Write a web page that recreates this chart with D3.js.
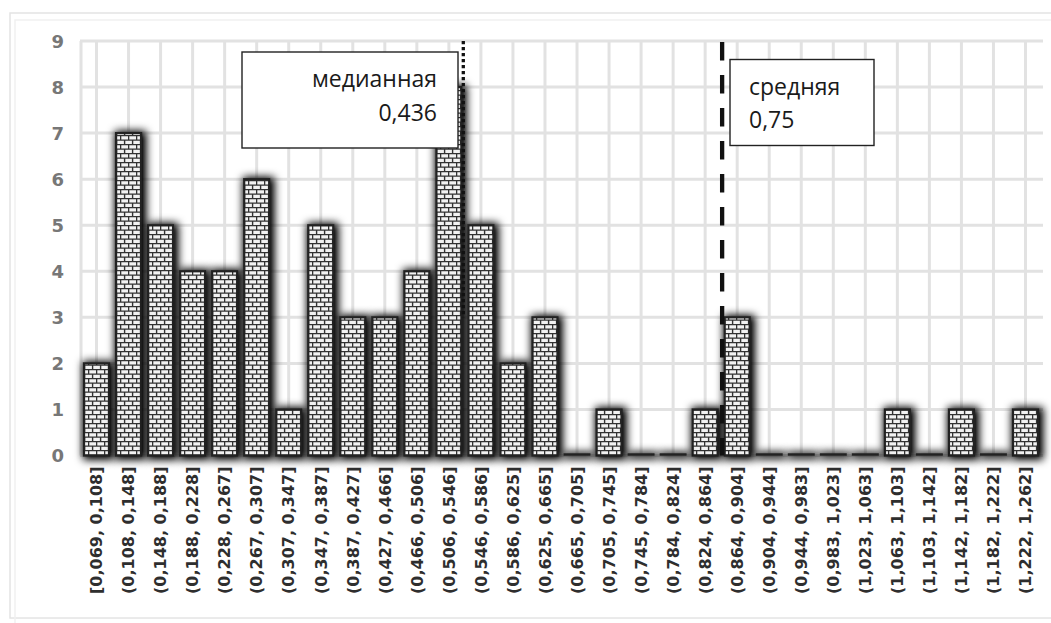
<!DOCTYPE html>
<html><head><meta charset="utf-8">
<script src="https://cdn.jsdelivr.net/npm/d3@7"></script>
<style>body{margin:0;background:#fff}</style>
</head><body>
<svg id="c" width="1051" height="623"></svg>
<script>
const categories = ["[0,069, 0,108]","(0,108, 0,148]","(0,148, 0,188]","(0,188, 0,228]","(0,228, 0,267]",
  "(0,267, 0,307]","(0,307, 0,347]","(0,347, 0,387]","(0,387, 0,427]","(0,427, 0,466]",
  "(0,466, 0,506]","(0,506, 0,546]","(0,546, 0,586]","(0,586, 0,625]","(0,625, 0,665]",
  "(0,665, 0,705]","(0,705, 0,745]","(0,745, 0,784]","(0,784, 0,824]","(0,824, 0,864]",
  "(0,864, 0,904]","(0,904, 0,944]","(0,944, 0,983]","(0,983, 1,023]","(1,023, 1,063]",
  "(1,063, 1,103]","(1,103, 1,142]","(1,142, 1,182]","(1,182, 1,222]","(1,222, 1,262]"];
const counts = [2,7,5,4,4,6,1,5,3,3,4,8,5,2,3,0,1,0,0,1,3,0,0,0,0,1,0,1,0,1];
const yTicks = [0,1,2,3,4,5,6,7,8,9];
const medianText = ["медианная","0,436"];
const meanText = ["средняя","0,75"];
// reference lines drawn between categories (index of category on the left, fraction of step)
const medianLine = {after: 11, frac: 0.45, topValue: 9, bottomValue: 3};
const meanLine = {after: 19, frac: 0.53, topValue: 9, bottomValue: 0};

const svg = d3.select("#c");
const defs = svg.append("defs");
const pat = defs.append("pattern").attr("id","brick").attr("patternUnits","userSpaceOnUse")
  .attr("width",8).attr("height",9);
pat.append("rect").attr("width",8).attr("height",9).attr("fill","#f2f2f2");
pat.append("path").attr("d","M0,0.6H8M0,5.1H8M0.6,0V5M4.6,5V9").attr("stroke","#333").attr("stroke-width",1.4).attr("fill","none");
const f = defs.append("filter").attr("id","sh").attr("filterUnits","userSpaceOnUse")
  .attr("x",0).attr("y",0).attr("width",1051).attr("height",623);
f.append("feMorphology").attr("in","SourceAlpha").attr("operator","dilate").attr("radius",1.5).attr("result","d");
f.append("feGaussianBlur").attr("in","d").attr("stdDeviation",4.5).attr("result","b");
f.append("feOffset").attr("in","b").attr("dx",2).attr("dy",1).attr("result","o");
const ct = f.append("feComponentTransfer").attr("in","o").attr("result","s");
ct.append("feFuncA").attr("type","linear").attr("slope",1.1);
const fm = f.append("feMerge"); fm.append("feMergeNode").attr("in","s"); fm.append("feMergeNode").attr("in","SourceGraphic");

// outer frame
svg.append("rect").attr("x",10).attr("y",13).attr("width",1060).attr("height",605)
  .attr("fill","none").attr("stroke","#e4e4e4").attr("stroke-width",1.5);
svg.append("path").attr("d","M15,1060V20H1060").attr("fill","none").attr("stroke","#f1f1f1").attr("stroke-width",1.5);

const x = d3.scaleBand().domain(categories).range([80.5,1041.5]).paddingInner(0.22).paddingOuter(0.11);
const y = d3.scaleLinear().domain([0,9]).range([455.5,41]);
const cx = c => x(c) + x.bandwidth()/2;

// gridlines
const grid = svg.append("g");
grid.selectAll("line.h").data(yTicks).join("line").attr("class","h")
  .attr("x1",80).attr("x2",1043).attr("y1",d=>y(d)).attr("y2",d=>y(d))
  .attr("stroke","#e2e2e2").attr("stroke-width",3);
grid.append("line").attr("x1",81).attr("x2",81).attr("y1",y(9)).attr("y2",y(0)).attr("stroke","#e2e2e2").attr("stroke-width",3);
grid.selectAll("line.v").data(categories).join("line").attr("class","v")
  .attr("x1",d=>cx(d)).attr("x2",d=>cx(d)).attr("y1",y(9)).attr("y2",y(0))
  .attr("stroke","#e2e2e2").attr("stroke-width",3);

// y axis
const ya = svg.append("g").attr("transform","translate(64,0)")
  .call(d3.axisLeft(y).tickValues(yTicks).tickSize(0).tickPadding(0));
ya.select(".domain").remove();
ya.selectAll("text").attr("font-family","DejaVu Sans").attr("font-weight","bold")
  .attr("font-size",18).attr("fill","#777").attr("dy","0.36em");

// x axis
const xa = svg.append("g").attr("transform",`translate(0,${y(0)})`)
  .call(d3.axisBottom(x).tickSize(0));
xa.select(".domain").remove();
xa.selectAll("text").attr("transform","rotate(-90)").attr("x",-11).attr("y",0).attr("dy","0.36em")
  .attr("text-anchor","end").attr("font-family","DejaVu Sans").attr("font-weight","bold")
  .attr("font-size",16).attr("fill","#2e2e2e");

// bars
const data = categories.map((c,i)=>({c, v: counts[i]}));
const bars = svg.append("g");
bars.selectAll("rect").data(data.filter(d=>d.v>0)).join("rect")
  .attr("x",d=>x(d.c)).attr("width",x.bandwidth())
  .attr("y",d=>y(d.v)).attr("height",d=>y(0)-y(d.v))
  .attr("fill","url(#brick)").attr("stroke","#222").attr("stroke-width",2.2)
  .attr("filter","url(#sh)");
bars.selectAll("line").data(data.filter(d=>d.v===0)).join("line")
  .attr("x1",d=>x(d.c)-1).attr("x2",d=>x(d.c)+x.bandwidth()+1)
  .attr("y1",y(0)-1).attr("y2",y(0)-1).attr("stroke","#222").attr("stroke-width",2.5)
  .attr("filter","url(#sh)");

// reference lines
const lineX = l => cx(categories[l.after]) + x.step()*l.frac;
svg.append("line").attr("x1",lineX(medianLine)).attr("x2",lineX(medianLine))
  .attr("y1",y(medianLine.topValue)).attr("y2",y(medianLine.bottomValue))
  .attr("stroke","#111").attr("stroke-width",3.3).attr("stroke-dasharray","3.2,2.8");
svg.append("line").attr("x1",lineX(meanLine)).attr("x2",lineX(meanLine))
  .attr("y1",y(meanLine.topValue)+1).attr("y2",y(meanLine.bottomValue))
  .attr("stroke","#111").attr("stroke-width",4.3).attr("stroke-dasharray","18.5,14.5");

// annotation boxes
function box(x0,y0,w,h,lines,anchor,tx,baselines){
  const g = svg.append("g");
  g.append("rect").attr("x",x0).attr("y",y0).attr("width",w).attr("height",h)
    .attr("fill","#fff").attr("stroke","#222").attr("stroke-width",1.4);
  g.selectAll("text").data(lines).join("text").attr("x",tx).attr("y",(d,i)=>baselines[i])
    .attr("text-anchor",anchor).attr("font-family","Open Sans").attr("font-size",23)
    .attr("fill","#1a1a1a").text(d=>d);
}
box(242,52,216,96,medianText,"end",437,[87,120.5]);
box(730,59.5,144,86,meanText,"start",749,[95,128]);
</script>
</body></html>
